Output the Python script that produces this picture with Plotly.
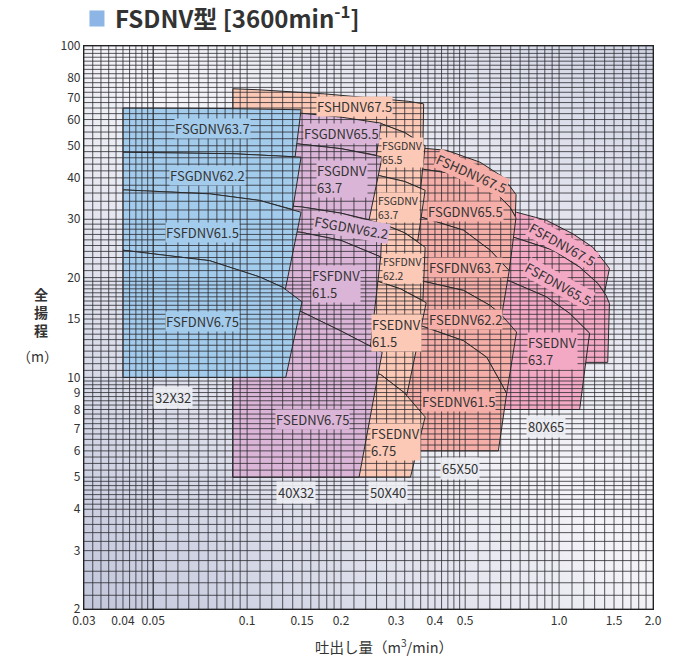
import base64
import numpy as np
import plotly.graph_objects as go

FONT = "Noto Sans CJK JP"

# ---------------- axis ticks ----------------
X_TICKS = [0.03, 0.04, 0.05, 0.1, 0.15, 0.2, 0.3, 0.4, 0.5, 1.0, 1.5, 2.0]
X_TICK_TEXT = ["0.03", "0.04", "0.05", "0.1", "0.15", "0.2", "0.3", "0.4", "0.5", "1.0", "1.5", "2.0"]
Y_TICKS = [2, 3, 4, 5, 6, 7, 8, 9, 10, 15, 20, 30, 40, 50, 60, 70, 80, 100]
Y_TICK_TEXT = [str(v) for v in Y_TICKS]

# ---------------- 80X65 (pink) ----------------
PINK_QMIN, PINK_HMIN = 0.4, 8.0
PINK_TOP_Q = [[0.4, 0.6, 0.7305, 0.91, 1.108, 1.283, 1.414, 1.45],
              [0.4, 0.6, 0.713, 0.956, 1.164, 1.331, 1.414, 1.45],
              [0.4, 0.6874, 0.91, 1.081, 1.252]]
PINK_TOP_H = [[34.0, 32.8, 31.5, 29.8, 27.1, 24.7, 22.0, 21.3],
              [28.0, 27.2, 26.5, 24.2, 21.5, 19.2, 17.7, 16.7],
              [21.0, 19.6, 17.5, 15.6, 13.6]]
PINK_EDGE_Q = [[1.398], [1.432, 1.21, 1.252], [1.164]]
PINK_EDGE_H = [[18.0], [11.1, 11.1, 13.6], [8.0]]

# ---------------- 65X50 (salmon) ----------------
SAL_QMIN, SAL_HMIN = 0.2, 6.0
SAL_TOP_Q = [[0.2, 0.355, 0.437, 0.558, 0.662, 0.728],
             [0.2, 0.3594, 0.494, 0.616, 0.696, 0.7275],
             [0.2, 0.3594, 0.494, 0.601, 0.692],
             [0.2, 0.358, 0.494, 0.6, 0.655, 0.704, 0.7305],
             [0.2, 0.358, 0.494, 0.586, 0.662, 0.679]]
SAL_TOP_H = [[52.0, 49.5, 48.4, 44.6, 40.2, 35.6],
             [44.0, 42.6, 40.7, 36.7, 32.6, 30.3],
             [31.5, 30.5, 27.8, 24.2, 21.0],
             [20.2, 19.6, 18.3, 16.5, 15.4, 14.2, 13.7],
             [15.0, 14.35, 12.9, 11.5, 9.35, 8.93]]
SAL_EDGE_Q = [[0.724], [0.692], [0.655], [0.679], [0.6388]]
SAL_EDGE_H = [[30.6], [21.0], [15.4], [8.93], [6.0]]

# ---------------- 50X40 (peach) ----------------
PEA_QMIN, PEA_HMIN = 0.09, 5.0
PEA_TOP_Q = [[0.09, 0.1082, 0.1773, 0.2474, 0.3285, 0.368],
             [0.09, 0.2, 0.2689, 0.32, 0.372],
             [0.09, 0.2, 0.2627, 0.32, 0.372],
             [0.09, 0.2, 0.271, 0.32, 0.372],
             [0.09, 0.2, 0.262, 0.31, 0.375],
             [0.09, 0.2, 0.2678, 0.3185, 0.372]]
PEA_TOP_H = [[74.3, 73.8, 71.7, 69.8, 68.1, 66.9],
             [60.5, 59.8, 58.3, 54.8, 50.0],
             [43.0, 42.0, 40.7, 39.0, 36.7],
             [31.0, 30.3, 29.1, 27.3, 24.7],
             [21.5, 20.6, 19.5, 18.5, 16.8],
             [12.0, 11.0, 10.2, 9.0, 7.6]]
PEA_EDGE_Q = [[0.366], [0.36], [0.352], [0.366], [0.325], [0.334]]
PEA_EDGE_H = [[50.6], [37.2], [25.7], [17.05], [8.85], [5.0]]

# ---------------- 40X32 (lilac) ----------------
LIL_QMIN, LIL_HMIN = 0.09, 5.0
LIL_TOP_Q = [[0.09, 0.1489, 0.2, 0.2689],
             [0.09, 0.144, 0.2, 0.271],
             [0.09, 0.1489, 0.2, 0.271],
             [0.09, 0.1489, 0.2, 0.268],
             [0.09, 0.1489, 0.2, 0.2485, 0.271]]
LIL_TOP_H = [[64.0, 62.7, 61.0, 58.5],
             [51.5, 50.7, 49.0, 46.3],
             [34.0, 32.7, 31.3, 29.1],
             [28.5, 27.4, 25.9, 23.1],
             [19.0, 15.8, 13.8, 12.4, 11.9]]
LIL_EDGE_Q = [[0.2597], [0.246], [0.268], [0.2485], [0.2285]]
LIL_EDGE_H = [[46.8], [29.9], [23.1], [12.4], [5.0]]

# ---------------- 32X32 (blue) ----------------
BLU_QMIN, BLU_HMIN = 0.04, 10.0
BLU_TOP_Q = [[0.04, 0.08, 0.1489],
             [0.04, 0.09, 0.1489],
             [0.04, 0.0758, 0.1096, 0.1489],
             [0.04, 0.0758, 0.1096, 0.13, 0.15]]
BLU_TOP_H = [[65.0, 64.8, 64.2],
             [47.8, 47.3, 46.2],
             [36.8, 35.8, 34.2, 31.5],
             [24.2, 22.5, 20.1, 18.7, 16.9]]
BLU_EDGE_Q = [[0.1425], [0.14], [0.1327], [0.133]]
BLU_EDGE_H = [[46.3], [32.1], [18.5], [10.0]]

GROUP_COLORS = {"pink": "#f3a9c4", "sal": "#f5afa8", "pea": "#fcc9b6",
                "lil": "#dbb5d7", "blu": "#a3cbec"}

# ---------------- labels ----------------
LABEL_TEXT = ["FSGDNV63.7", "FSGDNV62.2", "FSFDNV61.5", "FSFDNV6.75",
              "FSGDNV65.5", "FSGDNV<br>63.7", "FSGDNV62.2", "FSFDNV<br>61.5", "FSEDNV6.75",
              "FSHDNV67.5", "FSGDNV<br>65.5", "FSGDNV<br>63.7", "FSFDNV<br>62.2",
              "FSEDNV<br>61.5", "FSEDNV<br>6.75",
              "FSHDNV67.5", "FSGDNV65.5", "FSFDNV63.7", "FSEDNV62.2", "FSEDNV61.5",
              "FSFDNV67.5", "FSFDNV65.5", "FSEDNV<br>63.7"]
LABEL_Q = [0.0776, 0.0748, 0.0721, 0.0721,
           0.2008, 0.2015, 0.2166, 0.1929, 0.1618,
           0.2214, 0.3157, 0.3064, 0.3157, 0.302, 0.2988,
           0.525, 0.502, 0.50, 0.50, 0.476,
           1.029, 0.9925, 0.956]
LABEL_H = [56.4, 40.7, 27.4, 14.76,
           54.5, 39.8, 28.3, 19.2, 7.47,
           65.8, 47.7, 32.6, 21.3, 13.6, 6.37,
           41.2, 31.7, 21.4, 14.96, 8.48,
           25.2, 19.2, 12.0]
LABEL_ANGLE = [0, 0, 0, 0,
               0, 0, 10, 0, 0,
               0, 0, 0, 0, 0, 0,
               24, 0, 0, 0, 0,
               29, 29, 0]
LABEL_SIZE = [13, 13, 13, 13,
              13, 13, 13, 13, 13,
              13, 10.5, 10.5, 10.5, 13, 13,
              13, 13, 13, 13, 13,
              13, 13, 13]
LABEL_GROUP = ["blu"] * 4 + ["lil"] * 5 + ["pea"] * 6 + ["sal"] * 5 + ["pink"] * 3

SIZE_TEXT = ["32X32", "40X32", "50X40", "65X50", "80X65"]
SIZE_Q = [0.0578, 0.1439, 0.2825, 0.483, 0.91]
SIZE_H = [8.7, 4.5, 4.5, 5.31, 7.13]


def build_polys(top_q, top_h, edge_q, edge_h, qmin, hmin):
    polys = []
    n = len(top_q)
    for i in range(n):
        xs = list(top_q[i]) + list(edge_q[i])
        ys = list(top_h[i]) + list(edge_h[i])
        qlast = edge_q[i][-1]
        if i + 1 < n:
            for q, h in reversed(list(zip(top_q[i + 1], top_h[i + 1]))):
                if q < qlast - 1e-9:
                    xs.append(q)
                    ys.append(h)
        else:
            xs.append(qmin)
            ys.append(hmin)
        xs.append(xs[0])
        ys.append(ys[0])
        polys.append((xs, ys))
    return polys


fig = go.Figure()

groups = [
    ("pink", PINK_TOP_Q, PINK_TOP_H, PINK_EDGE_Q, PINK_EDGE_H, PINK_QMIN, PINK_HMIN),
    ("sal", SAL_TOP_Q, SAL_TOP_H, SAL_EDGE_Q, SAL_EDGE_H, SAL_QMIN, SAL_HMIN),
    ("pea", PEA_TOP_Q, PEA_TOP_H, PEA_EDGE_Q, PEA_EDGE_H, PEA_QMIN, PEA_HMIN),
    ("lil", LIL_TOP_Q, LIL_TOP_H, LIL_EDGE_Q, LIL_EDGE_H, LIL_QMIN, LIL_HMIN),
    ("blu", BLU_TOP_Q, BLU_TOP_H, BLU_EDGE_Q, BLU_EDGE_H, BLU_QMIN, BLU_HMIN),
]
for key, tq, th, eq, eh, qmin, hmin in groups:
    for xs, ys in build_polys(tq, th, eq, eh, qmin, hmin):
        fig.add_trace(go.Scatter(x=xs, y=ys, mode="lines", fill="toself",
                                 fillcolor=GROUP_COLORS[key],
                                 line=dict(color="#2b2b2b", width=1),
                                 hoverinfo="skip", showlegend=False))

# ---------------- grid drawn over the areas ----------------
vx = np.concatenate([np.arange(0.03, 0.05, 0.002), np.arange(0.05, 0.1, 0.005),
                     np.arange(0.1, 0.2, 0.01), np.arange(0.2, 0.5, 0.02),
                     np.arange(0.5, 1.0, 0.05), np.arange(1.0, 2.0001, 0.1)])
hy = np.concatenate([np.arange(2, 4, 0.2), np.linspace(4, 5, 8)[:-1],
                     np.arange(5, 10, 0.25), np.arange(10, 20, 0.5),
                     np.arange(20, 30, 1.0), np.arange(30, 50, 2.0),
                     np.arange(50, 100.01, 2.5)])
gx, gy = [], []
for v in vx:
    gx += [v, v, None]
    gy += [2, 100, None]
fig.add_trace(go.Scatter(x=gx, y=gy, mode="lines",
                         line=dict(color="rgba(40,40,45,0.78)", width=1),
                         hoverinfo="skip", showlegend=False))
hx, hh = [], []
for v in hy:
    hx += [0.03, 2.0, None]
    hh += [v, v, None]
fig.add_trace(go.Scatter(x=hx, y=hh, mode="lines",
                         line=dict(color="rgba(40,40,45,0.78)", width=1),
                         hoverinfo="skip", showlegend=False))

# ---------------- annotations ----------------
ann = []
for t, q, h, a, s, g in zip(LABEL_TEXT, LABEL_Q, LABEL_H, LABEL_ANGLE, LABEL_SIZE, LABEL_GROUP):
    ann.append(dict(x=np.log10(q), y=np.log10(h), xref="x", yref="y", text=t,
                    showarrow=False, textangle=a, align="left",
                    font=dict(family=FONT, size=s, color="#333"),
                    bgcolor=GROUP_COLORS[g], borderpad=0))
for t, q, h in zip(SIZE_TEXT, SIZE_Q, SIZE_H):
    ann.append(dict(x=np.log10(q), y=np.log10(h), xref="x", yref="y", text=t,
                    showarrow=False, font=dict(family=FONT, size=13, color="#333"),
                    bgcolor="rgba(238,239,244,0.92)", borderpad=1))

# title & axis titles
ann.append(dict(x=0.0507, y=1.0507, xref="paper", yref="paper", xanchor="left", yanchor="middle",
                text="<b>FSDNV型 [3600min<sup>-1</sup>]</b>", showarrow=False,
                font=dict(family=FONT, size=24, color="#333")))
ann.append(dict(x=0.527, y=-0.066, xref="paper", yref="paper", xanchor="center", yanchor="middle",
                text="吐出し量（m<sup>3</sup>/min）", showarrow=False,
                font=dict(family=FONT, size=14.5, color="#333")))
ann.append(dict(x=-0.076, y=0.527, xref="paper", yref="paper", xanchor="center", yanchor="middle",
                text="<b>全<br>揚<br>程</b>", showarrow=False,
                font=dict(family=FONT, size=14, color="#333")))
ann.append(dict(x=-0.082, y=0.449, xref="paper", yref="paper", xanchor="center", yanchor="middle",
                text="（m）", showarrow=False,
                font=dict(family=FONT, size=14, color="#333")))

# gradient background
svg = ('<svg xmlns="http://www.w3.org/2000/svg" width="200" height="200" viewBox="0 0 200 200" '
       'preserveAspectRatio="none"><defs><linearGradient id="g" x1="1" y1="0" x2="0" y2="1">'
       '<stop offset="0" stop-color="#d1d4e4"/><stop offset="0.47" stop-color="#f4f4f8"/>'
       '<stop offset="1" stop-color="#c3c7dc"/></linearGradient></defs>'
       '<rect width="200" height="200" fill="url(#g)"/></svg>')
src = "data:image/svg+xml;base64," + base64.b64encode(svg.encode()).decode()

fig.update_layout(
    width=674, height=663,
    margin=dict(l=84, r=18, t=46, b=54),
    paper_bgcolor="white", plot_bgcolor="rgba(0,0,0,0)",
    showlegend=False,
    annotations=ann,
    images=[dict(source=src, xref="paper", yref="paper", x=0, y=1, sizex=1, sizey=1,
                 xanchor="left", yanchor="top", sizing="stretch", layer="below")],
    shapes=[dict(type="rect", xref="paper", yref="paper", x0=0.0096, x1=0.036,
                 y0=1.0346, y1=1.0631, fillcolor="#8db6e6", line=dict(width=0))],
    xaxis=dict(type="log", range=[np.log10(0.03), np.log10(2.0)],
               tickmode="array", tickvals=X_TICKS, ticktext=X_TICK_TEXT,
               showgrid=False, zeroline=False, ticks="",
               showline=True, mirror=True, linecolor="#222", linewidth=1.2,
               tickfont=dict(family=FONT, size=12, color="#333")),
    yaxis=dict(type="log", range=[np.log10(2), np.log10(100)],
               tickmode="array", tickvals=Y_TICKS, ticktext=Y_TICK_TEXT,
               showgrid=False, zeroline=False, ticks="",
               showline=True, mirror=True, linecolor="#222", linewidth=1.2,
               tickfont=dict(family=FONT, size=12, color="#333")),
)

fig.write_html("out.html", config={"displayModeBar": False},
               post_script="document.body.style.margin='0px';document.body.style.overflow='hidden';")
